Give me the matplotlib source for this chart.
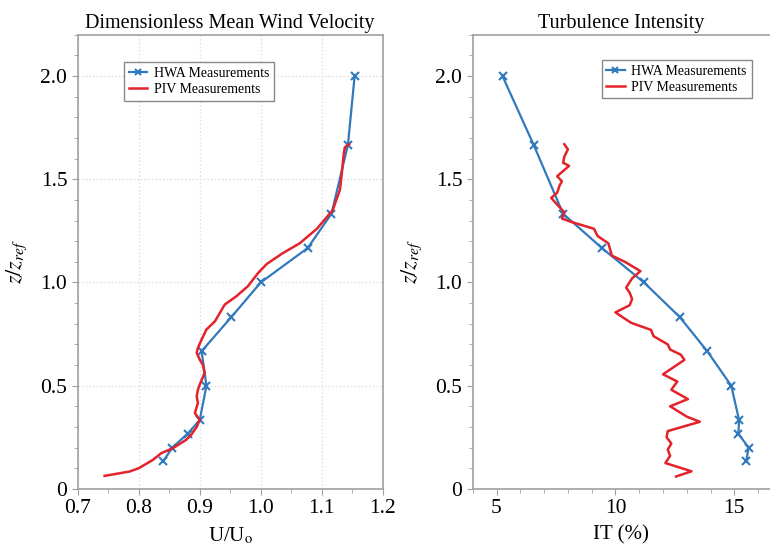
import matplotlib
matplotlib.use("Agg")
import matplotlib.pyplot as plt
from matplotlib.ticker import MultipleLocator

plt.rcParams["font.family"] = ["Liberation Serif", "DejaVu Serif"]
plt.rcParams["mathtext.fontset"] = "stix"

# HWA mean velocity profile
hwa_z = [0.133, 0.2, 0.267, 0.333, 0.5, 0.667, 0.833, 1.0, 1.167, 1.333, 1.667, 2.0]
hwa_u = [0.840, 0.855, 0.880, 0.900, 0.911, 0.903, 0.952, 1.0, 1.077, 1.116, 1.143, 1.154]

# PIV mean velocity profile
piv_u = [0.744, 0.785, 0.800, 0.823, 0.837, 0.856, 0.878, 0.886, 0.895, 0.900,
         0.892, 0.897, 0.895, 0.897, 0.900, 0.908, 0.905, 0.900, 0.895, 0.897,
         0.903, 0.911, 0.925, 0.941, 0.960, 0.979, 0.996, 1.010, 1.035, 1.064,
         1.092, 1.118, 1.130, 1.133, 1.136, 1.138, 1.145]
piv_z = [0.063, 0.084, 0.100, 0.140, 0.173, 0.197, 0.238, 0.262, 0.300, 0.335,
         0.367, 0.416, 0.448, 0.480, 0.505, 0.562, 0.602, 0.626, 0.659, 0.683,
         0.723, 0.772, 0.812, 0.893, 0.933, 0.982, 1.047, 1.090, 1.140, 1.190,
         1.260, 1.350, 1.450, 1.530, 1.620, 1.655, 1.670]

# HWA turbulence intensity
hwa_it = [15.5, 15.6, 15.17, 15.2, 14.87, 13.86, 12.7, 11.2, 9.43, 7.8, 6.56, 5.25]

# PIV turbulence intensity
piv_it = [12.55, 13.2, 12.1, 12.3, 12.2, 12.35, 12.15, 12.2, 13.55, 13.0,
          12.3, 13.05, 12.35, 12.6, 12.0, 12.9, 12.75, 12.3, 12.2, 11.6,
          11.5, 10.65, 10.0, 10.6, 10.7, 10.6, 10.45, 10.7, 11.05, 10.4,
          9.85, 9.7, 9.25, 9.1, 8.1, 7.75, 7.85, 7.45, 7.3, 7.55,
          7.65, 7.75, 7.55, 7.7, 8.05, 7.8, 7.85, 8.0, 7.85]
piv_it_z = [0.06, 0.085, 0.125, 0.16, 0.19, 0.22, 0.25, 0.28, 0.325, 0.35,
            0.40, 0.435, 0.48, 0.52, 0.555, 0.625, 0.65, 0.675, 0.70, 0.74,
            0.77, 0.805, 0.855, 0.89, 0.92, 0.95, 0.975, 1.02, 1.055, 1.10,
            1.13, 1.19, 1.225, 1.26, 1.295, 1.31, 1.34, 1.39, 1.41, 1.435,
            1.47, 1.49, 1.515, 1.53, 1.565, 1.58, 1.61, 1.645, 1.67]

y_ticks = [0, 0.5, 1.0, 1.5, 2.0]
y_labels = ["0", "0.5", "1.0", "1.5", "2.0"]
u_ticks = [0.7, 0.8, 0.9, 1.0, 1.1, 1.2]
u_labels = ["0.7", "0.8", "0.9", "1.0", "1.1", "1.2"]
it_ticks = [5, 10, 15]

blue = "#3179bd"
red = "#e3222b"
grey = "#a0a0a0"

fig = plt.figure(figsize=(7.70, 5.53), dpi=100)
ax1 = fig.add_axes([0.101, 0.116, 0.396, 0.821])
ax2 = fig.add_axes([0.614, 0.116, 0.386, 0.821])

ax1.plot(hwa_u, hwa_z, color=blue, lw=1.6, marker="x", ms=6, mew=1.5,
         label="HWA Measurements")
ax1.plot(piv_u, piv_z, color=red, lw=1.8, label="PIV Measurements")
ax1.set_xlim(0.7, 1.2)
ax1.set_xticks(u_ticks)
ax1.set_xticklabels(u_labels)
ax1.xaxis.set_minor_locator(MultipleLocator(0.05))
ax1.grid(True, which="major", color="#dddddd", ls=":", lw=1.0)
ax1.set_title("Dimensionless Mean Wind Velocity", fontsize=14.5, pad=5)
ax1.set_xlabel("U/U$_\\mathrm{o}$", fontsize=15, labelpad=5)

ax2.plot(hwa_it, hwa_z, color=blue, lw=1.6, marker="x", ms=6, mew=1.5,
         label="HWA Measurements")
ax2.plot(piv_it, piv_it_z, color=red, lw=1.8, label="PIV Measurements")
ax2.set_xlim(4, 16.5)
ax2.set_xticks(it_ticks)
ax2.xaxis.set_minor_locator(MultipleLocator(1))
ax2.set_title("Turbulence Intensity", fontsize=14.5, pad=5)
ax2.set_xlabel("IT (%)", fontsize=15, labelpad=5)
ax2.spines["right"].set_visible(False)

for ax in (ax1, ax2):
    ax.set_ylim(0, 2.2)
    ax.set_yticks(y_ticks)
    ax.set_yticklabels(y_labels)
    ax.yaxis.set_minor_locator(MultipleLocator(0.1))
    ax.set_ylabel("$z/z_{ref}$", fontsize=16, labelpad=8)
    for s in ax.spines.values():
        s.set_color(grey)
        s.set_linewidth(1.2)
    ax.tick_params(which="major", length=4, color=grey, labelsize=15.5)
    ax.tick_params(which="minor", length=3, color=grey)

leg_kw = dict(loc="upper left", fontsize=10, fancybox=False, edgecolor="#888888",
              framealpha=1, handlelength=1.3, handletextpad=0.5, borderpad=0.35,
              labelspacing=0.2, markerscale=0.7)
l1 = ax1.legend(bbox_to_anchor=(0.13, 0.955), **leg_kw)
l2 = ax2.legend(bbox_to_anchor=(0.41, 0.96), **leg_kw)
for l in (l1, l2):
    l.get_frame().set_linewidth(1.0)

fig.savefig("out.png", dpi=100)
